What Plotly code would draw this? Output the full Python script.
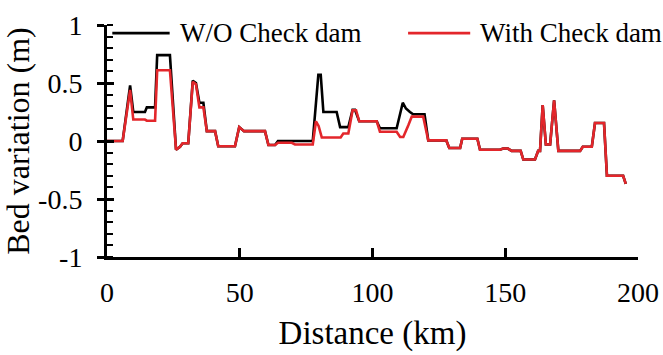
import plotly.graph_objects as go

# Distance along channel (km) and bed variation (m)
dist_wo = [0, 5.9, 8.7, 9.9, 14.3, 15.0, 18.1, 18.9, 23.7, 26.0, 27.5, 28.5, 30.6,
           32.3, 33.5, 34.8, 36.3, 37.6, 40.7, 41.9, 48.2, 49.8, 51.6, 59.5, 60.8,
           63.3, 64.4, 77.5, 79.6, 80.5, 81.5, 86.5, 87.8, 90.9, 92.5, 93.4, 95.0,
           101.6, 102.8, 109.1, 111.4, 112.6, 114.1, 115.3, 119.6, 121.0, 127.8,
           128.9, 133.0, 133.8, 139.5, 140.5, 148.0, 149.2, 151.0, 152.4, 155.8,
           156.8, 161.2, 162.4, 163.1, 164.1, 165.3, 166.9, 168.4, 170.0, 178.2,
           179.2, 182.6, 183.8, 187.2, 188.3, 194.4, 195.4]
bed_wo = [0, 0, 0.48, 0.25, 0.25, 0.29, 0.29, 0.74, 0.74, -0.075, -0.05, -0.02, -0.02,
          0.52, 0.50, 0.33, 0.33, 0.085, 0.085, -0.045, -0.045, 0.12, 0.085, 0.085, -0.035,
          -0.035, 0, 0, 0.57, 0.57, 0.25, 0.25, 0.12, 0.12, 0.27, 0.27, 0.17,
          0.17, 0.11, 0.11, 0.33, 0.28, 0.25, 0.23, 0.23, 0.005, 0.005,
          -0.06, -0.06, 0.02, 0.02, -0.075, -0.075, -0.065, -0.065, -0.085, -0.085,
          -0.16, -0.16, -0.085, -0.085, 0.31, -0.03, -0.03, 0.35, -0.085, -0.085,
          -0.05, -0.05, 0.155, 0.155, -0.30, -0.30, -0.37]

dist_with = [0, 5.9, 8.7, 9.9, 14.3, 15.0, 18.1, 18.9, 23.7, 26.0, 27.5, 28.5, 30.6,
             32.3, 33.5, 34.8, 36.3, 37.6, 40.7, 41.9, 48.2, 49.8, 51.6, 59.5, 60.8,
             63.3, 64.4, 69.6, 70.8, 77.5, 78.7, 79.7, 80.9, 88.0, 89.0, 90.9, 92.5,
             93.8, 95.0, 101.6, 102.8, 109.1, 110.4, 111.6, 113.5, 114.8, 119.1, 121.0,
             127.8, 128.9, 133.0, 133.8, 139.5, 140.5, 148.0, 149.2, 151.0, 152.4, 155.8,
             156.8, 161.2, 162.4, 163.1, 164.1, 165.3, 166.9, 168.4, 170.0, 178.2,
             179.2, 182.6, 183.8, 187.2, 188.3, 194.4, 195.4]
bed_with = [0, 0, 0.44, 0.185, 0.185, 0.175, 0.175, 0.61, 0.61, -0.075, -0.05, -0.02, -0.02,
            0.51, 0.49, 0.29, 0.29, 0.085, 0.085, -0.045, -0.045, 0.12, 0.085, 0.085, -0.035,
            -0.035, -0.015, -0.015, -0.03, -0.03, 0.17, 0.13, 0.03, 0.03, 0.065, 0.065, 0.265,
            0.265, 0.17, 0.17, 0.08, 0.08, 0.035, 0.035, 0.135, 0.21, 0.21, 0.005,
            0.005, -0.06, -0.06, 0.02, 0.02, -0.075, -0.075, -0.065, -0.065, -0.085, -0.085,
            -0.16, -0.16, -0.085, -0.085, 0.31, -0.03, -0.03, 0.35, -0.085, -0.085,
            -0.05, -0.05, 0.155, 0.155, -0.30, -0.30, -0.37]

x_ticks = [0, 50, 100, 150, 200]
y_ticks = [-1, -0.5, 0, 0.5, 1]
y_labels = ["-1", "-0.5", "0", "0.5", "1"]
names = ["W/O Check dam", "With Check dam"]
colors = ["#000000", "#e3262b"]

FONT = "Liberation Serif"

fig = go.Figure()
fig.add_trace(go.Scatter(x=dist_wo, y=bed_wo, mode="lines", name=names[0],
                         line=dict(color=colors[0], width=2.6), showlegend=False))
fig.add_trace(go.Scatter(x=dist_with, y=bed_with, mode="lines", name=names[1],
                         line=dict(color=colors[1], width=2.6), showlegend=False))
# invisible trace for overlay axis providing inside major ticks
fig.add_trace(go.Scatter(x=[None], y=[None], yaxis="y2", showlegend=False, hoverinfo="skip"))

fig.update_layout(
    template="none",
    width=663, height=355, autosize=False,
    margin=dict(l=107, r=25, t=25, b=98, pad=0),
    paper_bgcolor="white", plot_bgcolor="white",
    font=dict(family=FONT, color="black", size=28),
    xaxis=dict(range=[0, 200], tickvals=x_ticks, ticks="inside", ticklen=9, tickwidth=2.5,
               tickcolor="black", showline=True, linewidth=3, linecolor="black",
               showgrid=False, zeroline=False, tickfont=dict(size=28, family=FONT),
               ticklabelstandoff=8,
               title=dict(text="Distance (km)", font=dict(size=33, family=FONT), standoff=15)),
    yaxis=dict(range=[-1, 1], tickvals=y_ticks, ticktext=y_labels, ticks="outside",
               ticklen=7, tickwidth=2.5, tickcolor="black", showline=True, linewidth=3,
               linecolor="black", showgrid=False, zeroline=False,
               tickfont=dict(size=28, family=FONT), ticklabelstandoff=9,
               minor=dict(ticks="inside", ticklen=6, tickwidth=2, tickcolor="black",
                          dtick=0.1, showgrid=False),
               title=dict(text="Bed variation (m)", font=dict(size=32, family=FONT), standoff=2)),
    yaxis2=dict(range=[-1, 1], tickvals=y_ticks, ticks="inside", ticklen=7, tickwidth=2.5,
                tickcolor="black", showticklabels=False, overlaying="y", side="left",
                showgrid=False, zeroline=False, showline=False),
)

# manual legend
leg_y = 0.965
items = [(0.010, 0.118, 0.134), (0.567, 0.684, 0.699)]
for (x0, x1, xt), nm, col in zip(items, names, colors):
    fig.add_shape(type="line", xref="paper", yref="paper", x0=x0, x1=x1, y0=leg_y, y1=leg_y,
                  line=dict(color=col, width=2.6))
    fig.add_annotation(xref="paper", yref="paper", x=xt, y=leg_y, text=nm, showarrow=False,
                       xanchor="left", yanchor="middle", font=dict(size=27, family=FONT, color="black"))

fig.write_html("out.html")
